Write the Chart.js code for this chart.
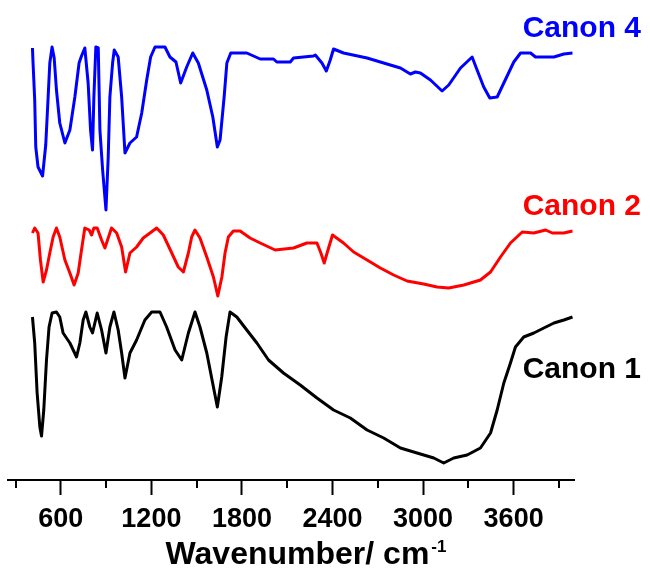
<!DOCTYPE html>
<html>
<head>
<meta charset="utf-8">
<title>FTIR spectra</title>
<script src="https://cdn.jsdelivr.net/npm/chart.js@4.4.1/dist/chart.umd.min.js"></script>
<style>
  html, body { margin: 0; padding: 0; background: #fff; }
  #wrap { width: 650px; height: 573px; position: relative; }
</style>
</head>
<body>
<div id="wrap"><canvas id="ftir" width="650" height="573"></canvas></div>
<script>
// Spectra, transmittance in offset arbitrary units (0 = axis line)
const canon4Wn = [412, 416, 427, 434, 449, 479, 500, 516, 527, 542, 556, 571, 593, 627, 660, 693, 721, 737, 759, 781, 797, 810, 819, 832, 848, 859, 877, 899, 914, 925, 943, 954, 980, 1003, 1025, 1058, 1102, 1136, 1169, 1195, 1224, 1290, 1323, 1363, 1394, 1434, 1474, 1511, 1567, 1607, 1637, 1655, 1682, 1700, 1726, 1832, 1921, 2009, 2031, 2120, 2142, 2274, 2286, 2330, 2359, 2385, 2407, 2473, 2629, 2739, 2850, 2916, 2949, 2982, 3049, 3126, 3170, 3248, 3325, 3358, 3402, 3442, 3491, 3535, 3601, 3646, 3712, 3745, 3823, 3867, 3933, 3990];
const canon4T  = [432, 417, 380, 333, 313, 304, 335, 383, 417, 433, 422, 390, 357, 337, 350, 383, 417, 424, 432, 397, 350, 330, 383, 433, 432, 350, 310, 270, 323, 383, 417, 430, 423, 383, 327, 337, 343, 367, 400, 423, 433, 433, 423, 418, 397, 413, 427, 417, 390, 363, 333, 340, 383, 417, 427, 427, 421, 421, 418, 418, 422, 424, 425, 417, 409, 420, 431, 427, 422, 417, 412, 406, 408, 407, 400, 389, 395, 412, 423, 410, 393, 382, 383, 397, 418, 427, 427, 423, 423, 423, 426, 427];

const canon2Wn = [412, 427, 449, 465, 483, 505, 527, 549, 571, 593, 627, 660, 688, 715, 737, 759, 788, 804, 819, 841, 870, 892, 914, 936, 970, 1003, 1029, 1058, 1102, 1146, 1191, 1235, 1279, 1335, 1378, 1412, 1445, 1467, 1489, 1522, 1567, 1611, 1640, 1667, 1688, 1710, 1743, 1788, 1854, 1921, 2020, 2142, 2230, 2297, 2323, 2345, 2374, 2400, 2473, 2540, 2629, 2717, 2805, 2894, 3004, 3093, 3170, 3270, 3380, 3447, 3513, 3579, 3657, 3734, 3812, 3856, 3933, 3990];
const canon2T  = [247, 252, 247, 220, 198, 210, 227, 243, 252, 243, 220, 207, 195, 207, 230, 252, 250, 245, 252, 252, 240, 232, 242, 252, 247, 233, 208, 227, 233, 242, 247, 252, 245, 227, 213, 208, 227, 243, 250, 242, 223, 203, 184, 203, 227, 243, 249, 249, 242, 237, 230, 232, 237, 237, 227, 217, 232, 245, 237, 228, 220, 212, 205, 199, 196, 193, 192, 195, 200, 208, 223, 237, 248, 247, 250, 247, 247, 249];

const canon1Wn = [412, 427, 443, 461, 472, 487, 505, 522, 542, 571, 593, 615, 660, 704, 726, 748, 766, 792, 810, 841, 870, 899, 925, 952, 980, 1003, 1025, 1058, 1102, 1157, 1202, 1257, 1301, 1357, 1401, 1445, 1489, 1522, 1567, 1611, 1637, 1666, 1695, 1721, 1766, 1832, 1899, 1976, 2075, 2186, 2297, 2407, 2518, 2629, 2739, 2850, 2960, 3071, 3137, 3203, 3292, 3380, 3447, 3491, 3535, 3579, 3612, 3667, 3734, 3800, 3867, 3933, 3990];
const canon1T  = [163, 137, 87, 53, 44, 70, 120, 153, 167, 168, 163, 147, 137, 123, 137, 160, 168, 153, 147, 167, 150, 127, 153, 168, 150, 127, 102, 127, 140, 160, 168, 168, 153, 130, 120, 147, 168, 153, 127, 93, 73, 103, 143, 168, 163, 150, 137, 120, 107, 95, 82, 70, 62, 50, 42, 32, 27, 22, 17, 22, 25, 32, 47, 70, 97, 117, 133, 143, 147, 152, 157, 160, 163];

const majorTicks = [600, 1200, 1800, 2400, 3000, 3600];
const minorTicks = [300, 900, 1500, 2100, 2700, 3300, 3900];

// series name, colour, label anchor (wavenumber, transmittance)
const seriesNames  = ['Canon 4', 'Canon 2', 'Canon 1'];
const seriesColors = ['#0000ff', '#ff0000', '#000000'];
const labelAnchors = [[3660, 443], [3660, 265], [3660, 102]];

const FONT = '"Liberation Sans", Arial, sans-serif';

function toPoints(wn, t) {
  return wn.map((w, i) => ({ x: w, y: t[i] }));
}

// minor ticks, axis title and series labels
const decorations = {
  id: 'decorations',
  afterDraw(chart) {
    const ctx = chart.ctx;
    const x = chart.scales.x;
    const y = chart.scales.y;
    const base = chart.chartArea.bottom;

    ctx.save();
    ctx.strokeStyle = '#000';
    ctx.lineWidth = 2;
    minorTicks.forEach(v => {
      const px = Math.round(x.getPixelForValue(v));
      ctx.beginPath();
      ctx.moveTo(px, base);
      ctx.lineTo(px, base + 8);
      ctx.stroke();
    });

    // Wavenumber/ cm^-1
    ctx.fillStyle = '#000';
    ctx.textBaseline = 'alphabetic';
    ctx.font = 'bold 32px ' + FONT;
    const main = 'Wavenumber/ cm';
    const mw = ctx.measureText(main).width;
    ctx.font = 'bold 17px ' + FONT;
    const sw = ctx.measureText('-1').width;
    const cx = (chart.chartArea.left + chart.chartArea.right) / 2 + 15;
    const tx = cx - (mw + sw + 2) / 2;
    ctx.font = 'bold 32px ' + FONT;
    ctx.fillText(main, tx, 564);
    ctx.font = 'bold 17px ' + FONT;
    ctx.fillText('-1', tx + mw + 2, 552);

    ctx.font = 'bold 30px ' + FONT;
    seriesNames.forEach((name, i) => {
      ctx.fillStyle = seriesColors[i];
      ctx.fillText(name, x.getPixelForValue(labelAnchors[i][0]), y.getPixelForValue(labelAnchors[i][1]));
    });
    ctx.restore();
  }
};

new Chart(document.getElementById('ftir'), {
  type: 'line',
  data: {
    datasets: [
      { label: seriesNames[0], data: toPoints(canon4Wn, canon4T) },
      { label: seriesNames[1], data: toPoints(canon2Wn, canon2T) },
      { label: seriesNames[2], data: toPoints(canon1Wn, canon1T) }
    ].map((ds, i) => Object.assign(ds, {
      borderColor: seriesColors[i],
      borderWidth: 3,
      borderJoinStyle: 'round',
      pointRadius: 0,
      tension: 0,
      fill: false
    }))
  },
  plugins: [decorations],
  options: {
    responsive: false,
    animation: false,
    devicePixelRatio: 1,
    layout: { padding: { left: 8, right: 76, top: 0, bottom: 0 } },
    plugins: {
      legend: { display: false },
      tooltip: { enabled: false }
    },
    scales: {
      x: {
        type: 'linear',
        min: 250,
        max: 4000,
        afterBuildTicks: scale => { scale.ticks = majorTicks.map(v => ({ value: v })); },
        afterFit: scale => { scale.height = 93; },
        border: { display: true, color: '#000', width: 2 },
        grid: { drawOnChartArea: false, drawTicks: true, tickLength: 15, tickColor: '#000', tickWidth: 2 },
        ticks: {
          autoSkip: false,
          maxRotation: 0,
          padding: 8,
          color: '#000',
          font: { family: FONT, size: 27, weight: 'bold' },
          callback: v => String(v)
        }
      },
      y: {
        type: 'linear',
        min: 0,
        max: 480,
        display: false
      }
    }
  }
});
</script>
</body>
</html>
